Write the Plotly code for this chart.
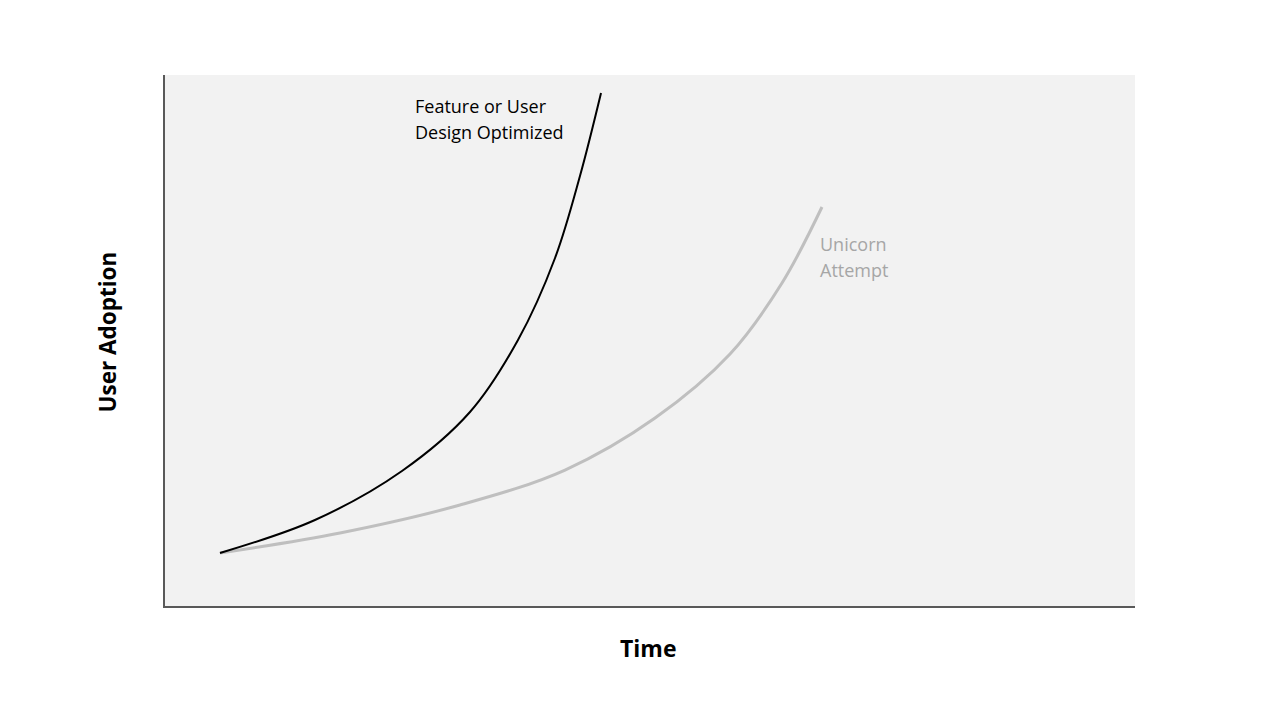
import plotly.graph_objects as go

# Data (time units 0-100, adoption units 0-100)
optimized_time = [5.67, 15.46, 24.43, 31.44, 36.39, 40.21, 42.78, 44.95]
optimized_adoption = [9.98, 16.20, 25.42, 36.53, 50.09, 65.54, 80.98, 96.61]

unicorn_time = [5.67, 18.04, 30.41, 41.24, 50.52, 58.25, 63.61, 67.73]
unicorn_adoption = [9.98, 13.75, 19.02, 25.61, 35.40, 47.46, 60.83, 75.14]

label_optimized = ["Feature or User", "Design Optimized"]
label_unicorn = ["Unicorn", "Attempt"]

FONT = "Open Sans"

fig = go.Figure()
fig.add_trace(go.Scatter(x=unicorn_time, y=unicorn_adoption, mode="lines",
                         line=dict(color="#bfbfbf", width=3, shape="spline", smoothing=1.0),
                         showlegend=False, hoverinfo="skip"))
fig.add_trace(go.Scatter(x=optimized_time, y=optimized_adoption, mode="lines",
                         line=dict(color="#000000", width=2, shape="spline", smoothing=1.0),
                         showlegend=False, hoverinfo="skip"))

for txt, yv in zip(label_optimized, [94.16, 89.27]):
    fig.add_annotation(x=25.57, y=yv, xref="x", yref="y", text=txt,
                       showarrow=False, xanchor="left", yanchor="middle", align="left",
                       font=dict(family=FONT, size=18, color="#000000"))
for txt, yv in zip(label_unicorn, [68.17, 63.28]):
    fig.add_annotation(x=67.32, y=yv, xref="x", yref="y", text=txt,
                       showarrow=False, xanchor="left", yanchor="middle", align="left",
                       font=dict(family=FONT, size=18, color="#a6a6a6"))

fig.add_annotation(x=0.5, y=0, xref="paper", yref="paper", text="<b>Time</b>",
                   showarrow=False, xanchor="center", yanchor="middle", yshift=-42, xshift=-2,
                   font=dict(family=FONT, size=23, color="#000000"))
fig.add_annotation(x=0, y=0.5, xref="paper", yref="paper", text="<b>User Adoption</b>",
                   showarrow=False, xanchor="center", yanchor="middle", xshift=-58, yshift=8,
                   textangle=-90,
                   font=dict(family=FONT, size=22.5, color="#000000"))

fig.update_xaxes(range=[0, 100], showgrid=False, zeroline=False, showticklabels=False,
                 ticks="", showline=True, linecolor="#595959", linewidth=1.5)
fig.update_yaxes(range=[0, 100], showgrid=False, zeroline=False, showticklabels=False,
                 ticks="", showline=True, linecolor="#595959", linewidth=1.5)

fig.update_layout(width=1280, height=720,
                  margin=dict(l=165, r=145, t=75, b=114),
                  paper_bgcolor="#ffffff", plot_bgcolor="#f2f2f2",
                  font=dict(family=FONT))

fig.write_html("out.html")
